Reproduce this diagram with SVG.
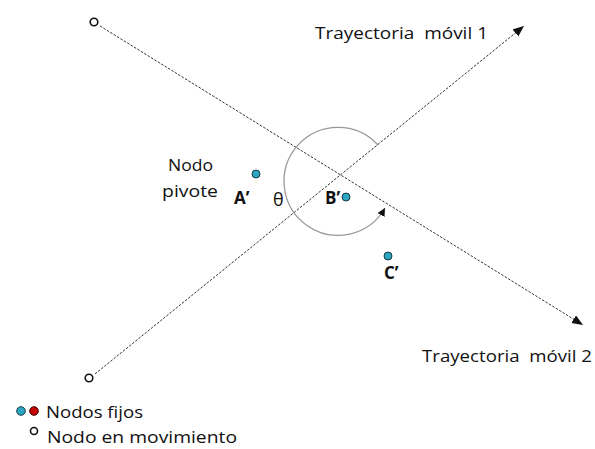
<svg xmlns="http://www.w3.org/2000/svg" width="595" height="449" viewBox="0 0 595 449">
<style>
text{font-family:"Open Sans","Liberation Sans",sans-serif;fill:#111;font-size:17px}
.b{font-weight:bold;font-size:17px}
.traj{stroke:#333;stroke-width:1;stroke-dasharray:2.5,1.5;fill:none}
.mov{fill:#fff;stroke:#111;stroke-width:1.6}
.cy{fill:#2ba6c2;stroke:#1a3a44;stroke-width:1}
.rd{fill:#c40000;stroke:#3a0000;stroke-width:1}
</style>
<defs>
<marker id="ah" markerUnits="userSpaceOnUse" markerWidth="12" markerHeight="10" refX="11" refY="4.5" orient="auto"><path d="M0,0 L11,4.5 L0,9 z" fill="#111"/></marker>
<marker id="ah2" markerUnits="userSpaceOnUse" markerWidth="10" markerHeight="9" refX="8" refY="4" orient="auto"><path d="M0,0 L8,4 L0,8 z" fill="#111"/></marker>
</defs>
<g id="connectors">
<line class="traj" x1="95" y1="374" x2="524" y2="26" marker-end="url(#ah)"/>
<line class="traj" x1="100" y1="26" x2="583" y2="325" marker-end="url(#ah)"/>
<path d="M378,145 A54,54 0 1 0 385,208" fill="none" stroke="#999" stroke-width="1.3" marker-end="url(#ah2)"/>
</g>
<g id="mobile1-start"><circle class="mov" cx="89" cy="378" r="3.8"/></g>
<g id="mobile2-start"><circle class="mov" cx="94" cy="22" r="3.8"/></g>
<g id="label-traj1"><text xml:space="preserve" x="315" y="39" textLength="173" lengthAdjust="spacingAndGlyphs">Trayectoria  móvil 1</text></g>
<g id="label-traj2"><text xml:space="preserve" x="422" y="362" textLength="170" lengthAdjust="spacingAndGlyphs">Trayectoria  móvil 2</text></g>
<g id="pivot-label"><text x="168" y="171" textLength="45" lengthAdjust="spacingAndGlyphs">Nodo</text><text x="162" y="197" textLength="56" lengthAdjust="spacingAndGlyphs">pivote</text></g>
<g id="nodeA"><circle class="cy" cx="256" cy="174" r="4"/><text class="b" x="234" y="204">A’</text></g>
<g id="theta"><text x="273" y="206" style="font-size:18px">θ</text></g>
<g id="nodeB"><circle class="cy" cx="346" cy="197" r="4"/><text class="b" x="325" y="204">B’</text></g>
<g id="nodeC"><circle class="cy" cx="388" cy="256" r="4"/><text class="b" x="384" y="279">C’</text></g>
<g id="legend">
<circle class="cy" cx="21" cy="411" r="4.3"/>
<circle class="rd" cx="34" cy="411" r="4.3"/>
<text x="46" y="418" textLength="97" lengthAdjust="spacingAndGlyphs">Nodos fijos</text>
<circle class="mov" cx="34" cy="431" r="3.5" stroke-width="1.3"/>
<text x="47" y="443" textLength="190" lengthAdjust="spacingAndGlyphs">Nodo en movimiento</text>
</g>
</svg>
